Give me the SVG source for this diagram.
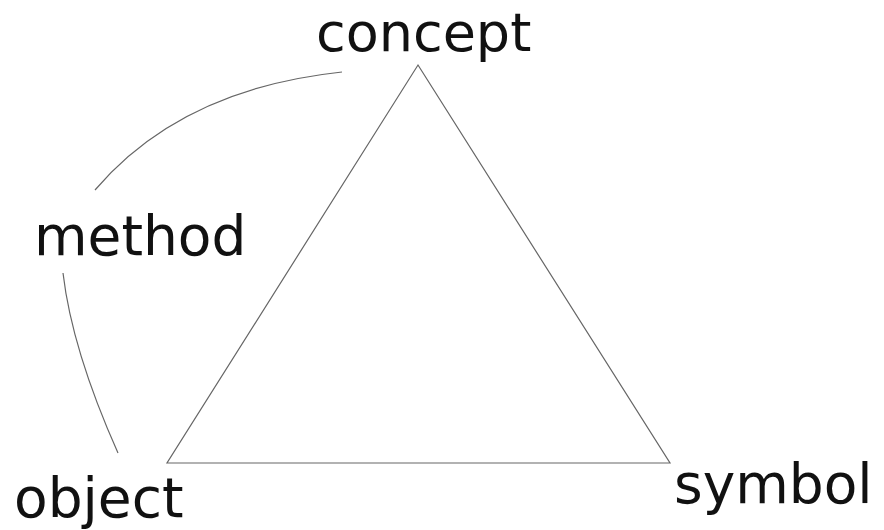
<svg xmlns="http://www.w3.org/2000/svg" width="884" height="530" viewBox="0 0 884 530">
<style>
.lbl{font-family:"DejaVu Sans","Verdana",sans-serif;font-size:55px;fill:#111}
.ln{fill:none;stroke:#666;stroke-width:1.2}
</style>
<rect width="884" height="530" fill="#fff"/>
<g id="connectors">
<path class="ln" d="M418,65 L670,463 L167,463 Z"/>
<path class="ln" d="M95,190 Q181,89 342,72"/>
<path class="ln" d="M63,273 Q72,350 118,453"/>
</g>
<g id="concept"><text class="lbl" x="316" y="51" style="font-size:54px">concept</text></g>
<g id="method"><text class="lbl" x="34" y="255">method</text></g>
<g id="object"><text class="lbl" x="14" y="517">object</text></g>
<g id="symbol"><text class="lbl" x="674" y="503">symbol</text></g>
</svg>
